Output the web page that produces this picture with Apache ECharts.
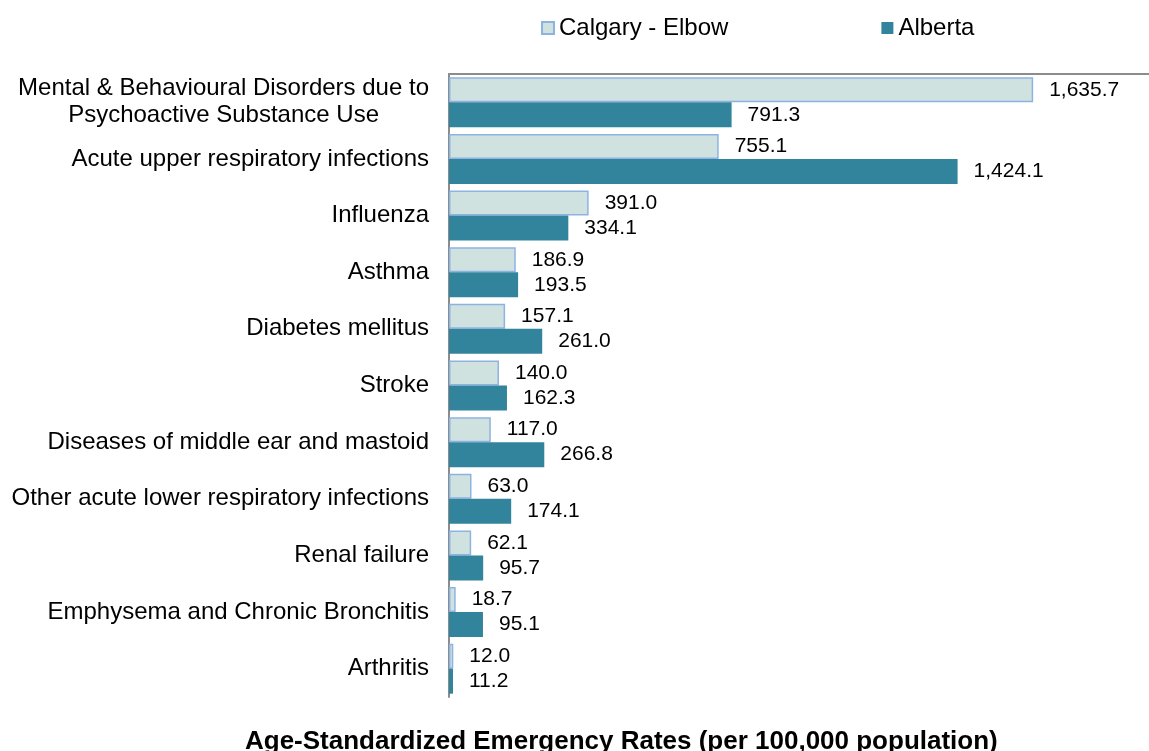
<!DOCTYPE html>
<html>
<head>
<meta charset="utf-8">
<script src="https://cdn.jsdelivr.net/npm/echarts@6/dist/echarts.min.js"></script>
<style>
html,body{margin:0;padding:0;background:#fff;}
#c{width:1149px;height:751px;}
</style>
</head>
<body>
<div id="c"></div>
<script>
const categories = [
  "Mental & Behavioural Disorders due to\nPsychoactive Substance Use",
  "Acute upper respiratory infections",
  "Influenza",
  "Asthma",
  "Diabetes mellitus",
  "Stroke",
  "Diseases of middle ear and mastoid",
  "Other acute lower respiratory infections",
  "Renal failure",
  "Emphysema and Chronic Bronchitis",
  "Arthritis"
];
const calgaryElbow = [1635.7, 755.1, 391.0, 186.9, 157.1, 140.0, 117.0, 63.0, 62.1, 18.7, 12.0];
const alberta = [791.3, 1424.1, 334.1, 193.5, 261.0, 162.3, 266.8, 174.1, 95.7, 95.1, 11.2];
const seriesNames = ["Calgary - Elbow", "Alberta"];
const xTitle = "Age-Standardized Emergency Rates (per 100,000 population)";

const fmt = v => v.toLocaleString('en-US', {minimumFractionDigits: 1, maximumFractionDigits: 1});
const font = "'Liberation Sans', Arial, sans-serif";

const chart = echarts.init(document.getElementById('c'));
const labelCfg = {
  show: true,
  position: 'right',
  distance: 16,
  fontFamily: font,
  fontSize: 21,
  color: '#000',
  formatter: p => fmt(p.value)
};
chart.setOption({
  animation: false,
  backgroundColor: '#fff',
  textStyle: {fontFamily: font},
  title: {
    text: xTitle,
    left: 245,
    top: 729,
    padding: 0,
    textStyle: {fontFamily: font, fontSize: 26, fontWeight: 'bold', color: '#000'}
  },
  legend: {
    left: 541,
    top: 16,
    padding: 0,
    icon: 'rect',
    itemWidth: 12,
    itemHeight: 12,
    itemGap: 153,
    textStyle: {fontFamily: font, fontSize: 24, color: '#000'},
    data: seriesNames
  },
  grid: {left: 449, right: 0, top: 74, bottom: 54, containLabel: false},
  xAxis: {
    type: 'value',
    position: 'top',
    min: 0,
    max: 1960,
    axisLine: {show: true, lineStyle: {color: '#8c8c8c', width: 2}},
    axisTick: {show: false},
    axisLabel: {show: false},
    splitLine: {show: false}
  },
  yAxis: {
    type: 'category',
    inverse: true,
    data: categories,
    axisLine: {show: true, lineStyle: {color: '#8c8c8c', width: 2}},
    axisTick: {show: false},
    axisLabel: {
      margin: 20,
      fontFamily: font,
      fontSize: 24,
      color: '#000',
      lineHeight: 27,
      formatter: v => '{c|' + v + '}',
      rich: {c: {align: 'center', fontFamily: font, fontSize: 24, color: '#000', lineHeight: 27}}
    }
  },
  series: [
    {
      name: seriesNames[0],
      type: 'bar',
      data: calgaryElbow,
      barWidth: 25,
      barGap: '0%',
      itemStyle: {color: '#d0e2e0', borderColor: '#8db3e2', borderWidth: 1.5},
      label: labelCfg
    },
    {
      name: seriesNames[1],
      type: 'bar',
      data: alberta,
      barWidth: 25,
      barGap: '0%',
      itemStyle: {color: '#31849b'},
      label: labelCfg
    }
  ]
});
</script>
</body>
</html>
